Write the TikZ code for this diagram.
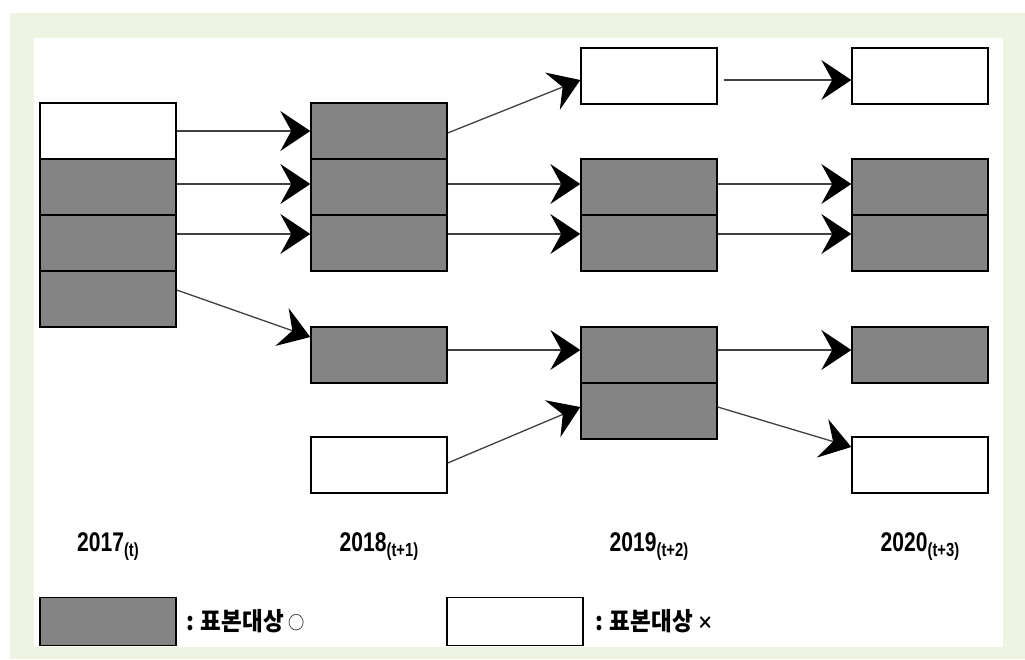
\documentclass[tikz,border=0pt]{standalone}
\usepackage{fontspec}
\usetikzlibrary{arrows.meta}
\newfontfamily\yearfont[FakeStretch=0.78]{Liberation Sans}
\newfontfamily\kofont[FakeStretch=0.9]{Noto Sans CJK KR}
\definecolor{bggreen}{RGB}{237,244,225}
\definecolor{boxgray}{RGB}{132,132,132}
\tikzset{
  sampled/.style={draw=black, line width=1.4pt, fill=boxgray, minimum width=136pt, minimum height=56pt, inner sep=0pt},
  unsampled/.style={sampled, fill=white},
  flow/.style={-{Stealth[length=30pt,width=40pt,inset=11pt,color=black]}, line width=1.3pt, draw=black!75},
  yearlabel/.style={anchor=base, inner sep=0pt, font=\yearfont\bfseries\fontsize{27}{30}\selectfont},
  legendtext/.style={anchor=west, inner sep=0pt, font=\kofont\bfseries\fontsize{25}{30}\selectfont},
}
\newcommand{\period}[1]{\raisebox{-5pt}{\fontsize{19}{19}\selectfont(#1)}}
\newcommand{\marksign}[2][\mdseries]{\raisebox{1pt}{#1\fontsize{18}{18}\selectfont #2}}
\begin{document}
\begin{tikzpicture}[x=1pt,y=-1pt]
      \useasboundingbox (0,0) rectangle (1025,659);
      \fill[bggreen] (10,13) rectangle (1025,659);
      \fill[white] (34,38) rectangle (1003,647);
      \draw
        (108,131) node[unsampled] (a1){}
        (108,187) node[sampled] (a2){}
        (108,243) node[sampled] (a3){}
        (108,299) node[sampled] (a4){}
        (379,131) node[sampled] (b1){}
        (379,187) node[sampled] (b2){}
        (379,243) node[sampled] (b3){}
        (379,355) node[sampled] (b5){}
        (379,465) node[unsampled] (b7){}
        (649,76) node[unsampled] (c0){}
        (649,187) node[sampled] (c2){}
        (649,243) node[sampled] (c3){}
        (649,355) node[sampled] (c5){}
        (649,411) node[sampled] (c6){}
        (920,76) node[unsampled] (d0){}
        (920,187) node[sampled] (d2){}
        (920,243) node[sampled] (d3){}
        (920,355) node[sampled] (d5){}
        (920,465) node[unsampled] (d7){};
      \draw
        (108,551) node[yearlabel] (yr1){2017\period{t}}
        (379,551) node[yearlabel] (yr2){2018\period{t+1}}
        (649,551) node[yearlabel] (yr3){2019\period{t+2}}
        (920,551) node[yearlabel] (yr4){2020\period{t+3}};
      \draw
        (108,621.5) node[sampled, minimum height=48pt] (lg1){}
        (186,621) node[legendtext] (lt1){: 표본대상 \marksign{○}}
        (515,621.5) node[unsampled, minimum height=48pt] (lg2){}
        (595,621) node[legendtext] (lt2){: 표본대상 \marksign[\bfseries]{×}};
      \begin{scope}[flow]
        \draw (a1.east) to (b1.west);
        \draw ([yshift=3pt]a2.east) to ([yshift=3pt]b2.west);
        \draw ([yshift=9pt]a3.east) to ([yshift=9pt]b3.west);
        \draw ([yshift=9pt]a4.east) to ([yshift=18pt]b5.west);
        \draw ([yshift=-2pt]b1.east) to ([yshift=-4pt]c0.west);
        \draw ([yshift=3pt]b2.east) to ([yshift=3pt]c2.west);
        \draw ([yshift=9pt]b3.east) to ([yshift=9pt]c3.west);
        \draw ([yshift=5pt]b5.east) to ([yshift=5pt]c5.west);
        \draw ([yshift=2pt]b7.east) to ([yshift=4pt]c6.west);
        \draw ([xshift=6pt,yshift=-4pt]c0.east) to ([yshift=-4pt]d0.west);
        \draw ([yshift=3pt]c2.east) to ([yshift=3pt]d2.west);
        \draw ([yshift=9pt]c3.east) to ([yshift=9pt]d3.west);
        \draw ([yshift=5pt]c5.east) to ([yshift=5pt]d5.west);
        \draw ([yshift=4pt]c6.east) to ([yshift=18pt]d7.west);
      \end{scope}
    \end{tikzpicture}
\end{document}
